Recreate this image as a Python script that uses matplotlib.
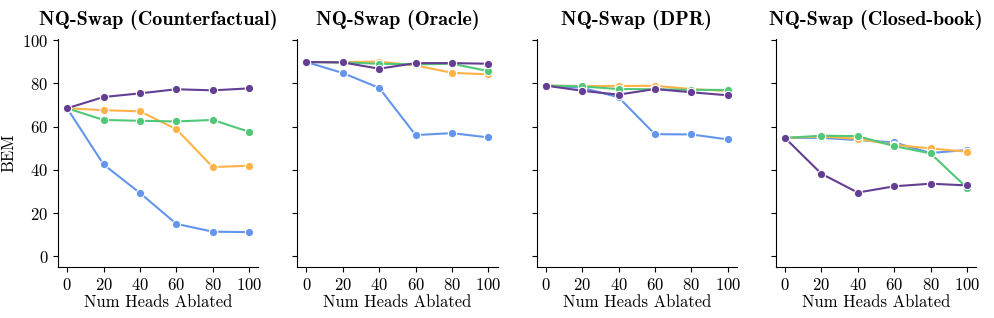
import matplotlib
matplotlib.use("Agg")
import matplotlib.pyplot as plt

plt.rcParams['font.family'] = 'cmr10'
plt.rcParams['mathtext.fontset'] = 'cm'
plt.rcParams['axes.formatter.use_mathtext'] = True
plt.rcParams['axes.unicode_minus'] = False

heads = [0, 20, 40, 60, 80, 100]
titles = ["NQ-Swap (Counterfactual)", "NQ-Swap (Oracle)", "NQ-Swap (DPR)", "NQ-Swap (Closed-book)"]

# series per panel: blue, orange, green, purple
blue = [
    [68.5, 42.5, 29.3, 15.0, 11.4, 11.2],
    [89.9, 84.8, 77.9, 56.1, 57.0, 55.0],
    [79.0, 78.0, 73.6, 56.5, 56.4, 54.1],
    [54.8, 54.8, 53.8, 52.7, 47.8, 49.2],
]
orange = [
    [68.5, 67.6, 67.1, 58.8, 41.3, 41.9],
    [89.9, 89.9, 90.1, 88.3, 84.9, 84.2],
    [79.0, 78.8, 78.8, 78.9, 77.4, 76.5],
    [54.8, 55.4, 54.4, 51.6, 49.9, 48.4],
]
green = [
    [68.5, 63.1, 62.7, 62.4, 63.1, 57.6],
    [89.9, 89.7, 89.1, 88.8, 89.1, 85.7],
    [79.0, 78.6, 77.4, 77.3, 77.0, 77.0],
    [54.8, 55.8, 55.6, 51.0, 47.6, 31.7],
]
purple = [
    [68.5, 73.7, 75.4, 77.3, 76.8, 77.7],
    [89.9, 89.7, 86.8, 89.4, 89.4, 89.1],
    [79.0, 76.6, 74.8, 77.4, 75.9, 74.5],
    [54.8, 38.2, 29.5, 32.4, 33.6, 32.8],
]

colors = ['#6495ED', '#FFB347', '#50C878', '#633E93']

fig, axes = plt.subplots(1, 4, figsize=(9.94, 3.18), dpi=100, sharey=True)
fig.subplots_adjust(left=0.0584, right=0.982, top=0.877, bottom=0.160, wspace=0.195)

for i, ax in enumerate(axes):
    for series, c in zip([blue, orange, green, purple], colors):
        ax.plot(heads, series[i], color=c, lw=1.5, marker='o', markersize=6,
                markeredgecolor='white', markeredgewidth=0.8)
    ax.set_title(titles[i], fontfamily='cmb10', fontsize=14.5, pad=10)
    ax.set_xlim(-5, 105)
    ax.set_ylim(-5, 100.5)
    ax.set_xticks(heads)
    ax.set_yticks([0, 20, 40, 60, 80, 100])
    ax.set_xlabel("Num Heads Ablated", fontsize=12, labelpad=1)
    ax.tick_params(labelsize=12)
    ax.spines['top'].set_visible(False)
    ax.spines['right'].set_visible(False)

axes[0].set_ylabel("BEM", fontsize=12)

fig.savefig("out.png")
